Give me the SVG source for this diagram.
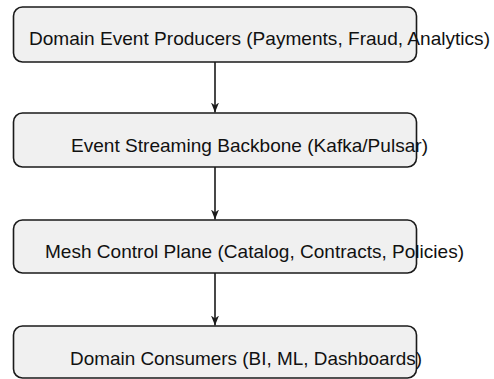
<svg xmlns="http://www.w3.org/2000/svg" width="494" height="379" viewBox="0 0 494 379">
<defs>
<style>
.box{fill:#f0f0f0;stroke:#1a1a1a;stroke-width:1.6}
.lbl{font-family:"Liberation Sans",Arial,sans-serif;font-size:19px;fill:#111}
.edge{stroke:#1a1a1a;stroke-width:1.6;fill:none}
</style>
<marker id="arr" viewBox="0 0 10 10" refX="10" refY="5" markerWidth="10" markerHeight="10" markerUnits="userSpaceOnUse" orient="auto">
<path d="M0,1 L10,5 L0,9 L3,5 Z" fill="#1a1a1a"/>
</marker>
</defs>
<rect width="494" height="379" fill="#ffffff"/>
<g id="connectors">
<line class="edge" x1="215" y1="62" x2="215" y2="112.5" marker-end="url(#arr)"/>
<line class="edge" x1="215" y1="167" x2="215" y2="219.5" marker-end="url(#arr)"/>
<line class="edge" x1="215" y1="273" x2="215" y2="325.5" marker-end="url(#arr)"/>
</g>
<g id="producers">
<rect class="box" x="13.5" y="7" width="403" height="55" rx="9"/>
<text class="lbl" x="29" y="45" textLength="461" lengthAdjust="spacingAndGlyphs">Domain Event Producers (Payments, Fraud, Analytics)</text>
</g>
<g id="backbone">
<rect class="box" x="13.5" y="113" width="403" height="54" rx="9"/>
<text class="lbl" x="71" y="151.5" textLength="357" lengthAdjust="spacingAndGlyphs">Event Streaming Backbone (Kafka/Pulsar)</text>
</g>
<g id="control">
<rect class="box" x="13.5" y="220" width="403" height="53" rx="9"/>
<text class="lbl" x="45" y="258" textLength="419" lengthAdjust="spacingAndGlyphs">Mesh Control Plane (Catalog, Contracts, Policies)</text>
</g>
<g id="consumers">
<rect class="box" x="13.5" y="326" width="403" height="52" rx="9"/>
<text class="lbl" x="70" y="365" textLength="352" lengthAdjust="spacingAndGlyphs">Domain Consumers (BI, ML, Dashboards)</text>
</g>
</svg>
